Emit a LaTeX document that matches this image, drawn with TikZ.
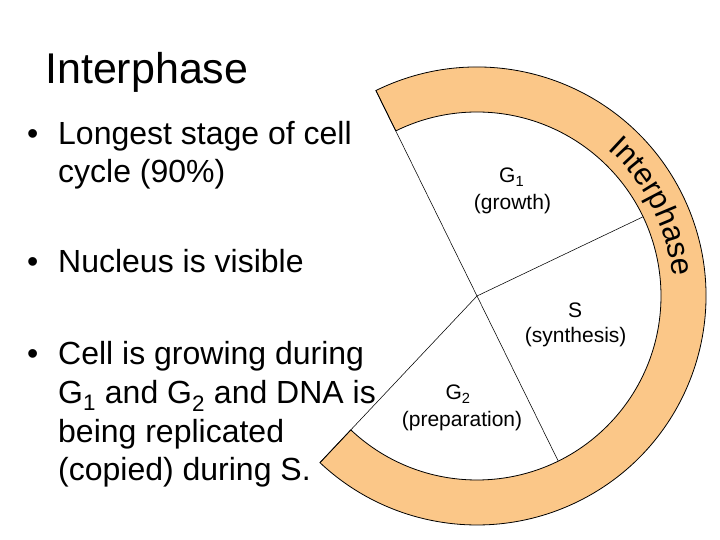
\documentclass[tikz,border=0pt]{standalone}
\usepackage{fontspec}
\setmainfont{Liberation Sans}
\usetikzlibrary{calc,decorations.text}
\definecolor{ringfill}{RGB}{251,199,136}
\newcommand\ringfont{\fontsize{31}{31}\selectfont}
\begin{document}
\begin{tikzpicture}[x=1pt,y=1pt,
  bullettext/.style={anchor=base west, inner sep=0pt, font=\fontsize{32}{32}\selectfont},
  titletext/.style={anchor=base west, inner sep=0pt, font=\fontsize{43}{43}\selectfont},
  phaselabel/.style={anchor=base, inner sep=0pt, font=\fontsize{21}{21}\selectfont},
  divider/.style={draw=black, line width=0.55pt},
  ringstyle/.style={fill=ringfill, draw=black, line width=0.8pt}]
\useasboundingbox[fill=white] (0,0) rectangle (720,540);
\coordinate (C) at (477,244);
% ring
\path[ringstyle] ($(C)+(116.2:229)$) arc[start angle=116.2, end angle=-133.3, radius=229]
  -- ($(C)+(-133.3:184)$) arc[start angle=-133.3, end angle=116.2, radius=184] -- cycle;
% ring text
\path[decorate, decoration={text along path, text={|\ringfont|Interphase}, text align=center}]
  ($(C)+(57:196.5)$) arc[start angle=57, end angle=-3, radius=196.5];
% dividers
\coordinate (eM) at ($(C)+(116.2:229)$);
\coordinate (eS) at ($(C)+(25.5:184)$);
\coordinate (eG) at ($(C)+(-63.8:184)$);
\coordinate (eE) at ($(C)+(226.7:229)$);
\draw[divider] (C) -- (eM);
\draw[divider] (C) -- (eS);
\draw[divider] (C) -- (eG);
\draw[divider] (C) -- (eE);
% phase labels
\node[phaselabel] (g1) at (511.7,357) {G\textsubscript{1}};
\node[phaselabel] (g1b) at (512.5,330) {(growth)};
\node[phaselabel] (s) at (575,222) {S};
\node[phaselabel] (sb) at (575.7,197) {(synthesis)};
\node[phaselabel] (g2) at (458,140) {G\textsubscript{2}};
\node[phaselabel] (g2b) at (462,113.3) {(preparation)};
% title and bullets
\node[titletext] (title) at (45,456) {Interphase};
\node[bullettext] (d1) at (27,395) {•};
\node[bullettext] (d2) at (27,267) {•};
\node[bullettext] (d3) at (27,175) {•};
\node[bullettext] (l1) at (58,395) {Longest stage of cell};
\node[bullettext] (l2) at (58,357) {cycle (90\%)};
\node[bullettext] (l3) at (58,267) {Nucleus is visible};
\node[bullettext] (l4) at (58,175) {Cell is growing during};
\node[bullettext] (l5) at (58,136) {G\textsubscript{1} and G\textsubscript{2} and DNA is};
\node[bullettext] (l6) at (58,97) {being replicated};
\node[bullettext] (l7) at (58,59) {(copied) during S.};
\end{tikzpicture}
\end{document}
